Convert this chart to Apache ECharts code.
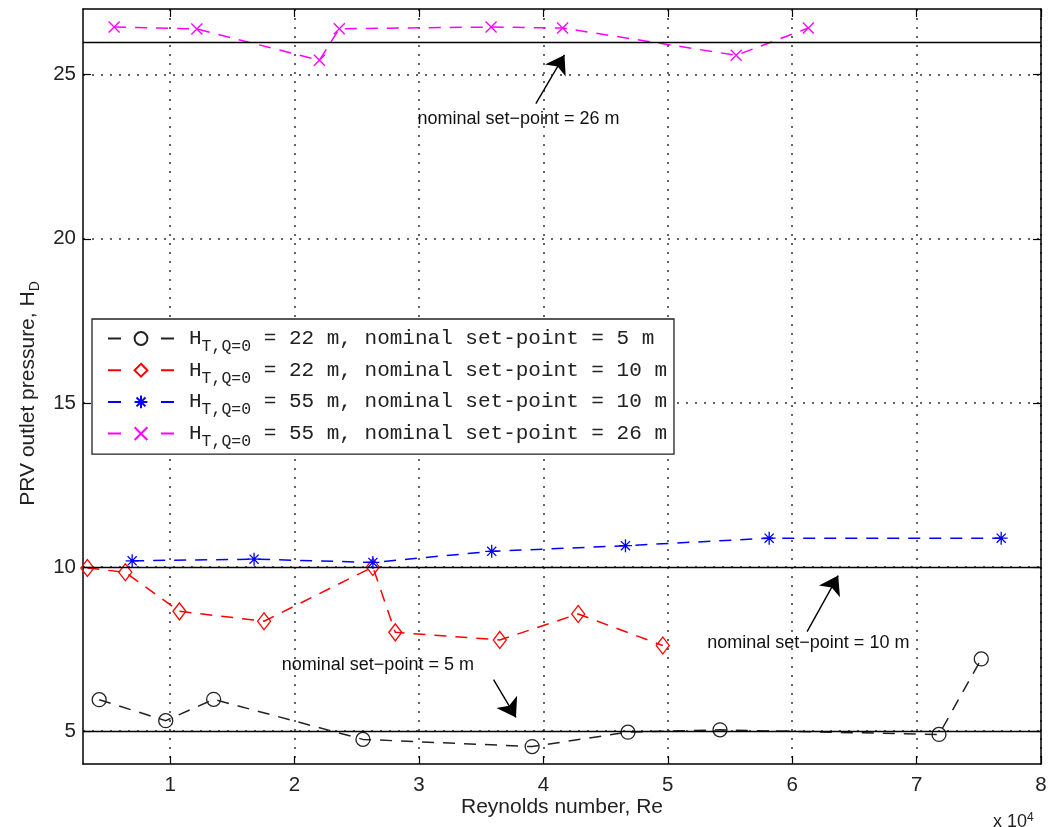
<!DOCTYPE html>
<html>
<head>
<meta charset="utf-8">
<script src="https://cdn.jsdelivr.net/npm/echarts@6/dist/echarts.min.js"></script>
<style>
html, body { margin: 0; padding: 0; background: #fff; }
#chart_main { width: 1052px; height: 827px; }
</style>
</head>
<body>
<div id="chart_main"></div>
<script>
// 横轴 Reynolds number (x 10^4)
var reBlack = [0.43, 0.965, 1.35, 2.55, 3.91, 4.68, 5.42, 7.18, 7.52];
var hBlack  = [5.96, 5.32, 5.97, 4.75, 4.53, 4.97, 5.04, 4.90, 7.20];

var reRed = [0.335, 0.64, 1.075, 1.755, 2.63, 2.81, 3.65, 4.28, 4.96];
var hRed  = [9.97, 9.84, 8.65, 8.35, 10.0, 8.01, 7.78, 8.57, 7.61];

var reBlue = [0.695, 1.675, 2.63, 3.585, 4.66, 5.815, 7.68];
var hBlue  = [10.19, 10.24, 10.14, 10.48, 10.65, 10.88, 10.88];

var reMag = [0.55, 1.215, 2.2, 2.36, 3.58, 4.155, 5.55, 6.13];
var hMag  = [26.45, 26.39, 25.44, 26.40, 26.45, 26.42, 25.59, 26.42];

var seriesNames = [
    '22 m, nominal set-point = 5 m',
    '22 m, nominal set-point = 10 m',
    '55 m, nominal set-point = 10 m',
    '55 m, nominal set-point = 26 m'
];

// 刻度
var xTicks = [1, 2, 3, 4, 5, 6, 7, 8];
var yTicks = [5, 10, 15, 20, 25];
var xRange = [0.3, 8];
var yRange = [4, 27];

// 设定值
var setPoints = [5, 10, 26];

// 注释: 文字位置 / 箭头起点 / 箭头终点
var noteText = ['nominal set\u2212point = 26 m', 'nominal set\u2212point = 10 m', 'nominal set\u2212point = 5 m'];
var notePos  = [[3.80, 23.64], [6.13, 7.70], [2.67, 7.00]];
var arrowFrom = [[3.94, 24.12], [6.12, 8.03], [3.60, 6.57]];
var arrowTo   = [[4.17, 25.60], [6.37, 9.74], [3.78, 5.42]];

var chart = echarts.init(document.getElementById('chart_main'));

var pairs = function (xs, ys) {
    return xs.map(function (x, i) {
        return [x, ys[i]];
    });
};

var dash = [12, 9];
var tickFont = 'Liberation Sans, Arial, sans-serif';
var monoFont = 'Liberation Mono, monospace';

var lineSeries = function (name, xs, ys, color, symbol, size) {
    return {
        name: name,
        type: 'line',
        data: pairs(xs, ys),
        symbol: symbol,
        symbolSize: size,
        showAllSymbol: true,
        lineStyle: { color: color, width: 1.5, type: dash },
        itemStyle: { color: 'transparent', borderColor: color, borderWidth: 1.3 },
        emphasis: { disabled: true },
        z: 3
    };
};

var series = [
    lineSeries(seriesNames[0], reBlack, hBlack, '#222', 'circle', 14),
    lineSeries(seriesNames[1], reRed, hRed, '#ff0000', 'diamond', [13, 17]),
    lineSeries(seriesNames[2], reBlue, hBlue, '#0000ff',
        'path://M0,-10L0,10M-10,0L10,0M-7,-7L7,7M-7,7L7,-7', 13),
    lineSeries(seriesNames[3], reMag, hMag, '#ff00ff',
        'path://M-5,-5L5,5M-5,5L5,-5', 11)
];

// 设定值横线 + 箭头
var markData = setPoints.map(function (v) {
    return { yAxis: v, symbol: 'none' };
});
arrowFrom.forEach(function (p, i) {
    markData.push([
        { coord: p, symbol: 'none' },
        { coord: arrowTo[i], symbol: 'arrow', symbolSize: 18 }
    ]);
});
series[0].markLine = {
    silent: true,
    symbol: 'none',
    label: { show: false },
    lineStyle: { color: '#000', type: 'solid', width: 1.4 },
    emphasis: { disabled: true },
    data: markData
};
series[0].markPoint = {
    silent: true,
    symbol: 'circle',
    symbolSize: 0,
    label: {
        show: true,
        position: 'inside',
        color: '#111',
        fontSize: 18,
        fontFamily: tickFont,
        formatter: function (p) { return p.name; }
    },
    data: noteText.map(function (t, i) {
        return { name: t, coord: notePos[i] };
    })
};

var axisCommon = function () {
    return {
        type: 'value',
        axisLine: { show: true, onZero: false, lineStyle: { color: '#000', width: 1.5 } },
        axisTick: { show: true, inside: true, length: 8, lineStyle: { color: '#000', width: 1.2 } }
    };
};

var gridLine = { show: true, lineStyle: { color: '#333', type: [2, 7], width: 1.5 } };

var option = {
    animation: false,
    grid: { left: 83, right: 11, top: 9, bottom: 63 },
    legend: {
        left: 92,
        top: 319,
        orient: 'vertical',
        selectedMode: false,
        itemWidth: 66,
        itemHeight: 16,
        itemGap: -1.3,
        padding: [3, 7, 4, 15],
        borderColor: '#222',
        borderWidth: 1.3,
        backgroundColor: '#fff',
        lineStyle: { type: [13, 40] },
        formatter: function (name) {
            return '{m|H}{s|T,Q=0}{m| = ' + name + '}';
        },
        textStyle: {
            padding: [0, 0, 0, 10],
            rich: {
                m: { fontFamily: monoFont, fontSize: 21, lineHeight: 22, color: '#222' },
                s: { fontFamily: monoFont, fontSize: 16.5, lineHeight: 10, padding: [16, 0, 0, 0], color: '#222' }
            }
        },
        data: seriesNames
    },
    xAxis: [
        echarts.util.extend({
            position: 'bottom',
            min: xRange[0],
            max: xRange[1],
            name: 'Reynolds number, Re',
            nameLocation: 'middle',
            nameGap: 33,
            nameMoveOverlap: false,
            nameTextStyle: { fontFamily: tickFont, fontSize: 21, color: '#222' },
            axisLabel: { customValues: xTicks, fontFamily: tickFont, fontSize: 20.5, color: '#222', margin: 11 },
            splitLine: gridLine
        }, axisCommon()),
        echarts.util.extend({
            position: 'top',
            min: xRange[0],
            max: xRange[1],
            axisLabel: { show: false },
            splitLine: { show: false }
        }, axisCommon())
    ],
    yAxis: [
        echarts.util.extend({
            position: 'left',
            min: yRange[0],
            max: yRange[1],
            name: 'PRV outlet pressure, H{s|D}',
            nameLocation: 'middle',
            nameGap: 43,
            nameTextStyle: {
                fontFamily: tickFont, fontSize: 21, color: '#222', lineHeight: 24,
                padding: [0, 14, 0, 0],
                rich: {
                    s: { fontFamily: tickFont, fontSize: 14, lineHeight: 10, padding: [14, 0, 0, 0], color: '#222' }
                }
            },
            axisLabel: { customValues: yTicks, fontFamily: tickFont, fontSize: 20.5, color: '#222', margin: 7 },
            splitLine: gridLine
        }, axisCommon()),
        echarts.util.extend({
            position: 'right',
            min: yRange[0],
            max: yRange[1],
            axisLabel: { show: false },
            splitLine: { show: false }
        }, axisCommon())
    ],
    graphic: [{
        type: 'text',
        left: 993,
        top: 812,
        style: {
            text: '{a|x 10}{b|4}',
            rich: {
                a: { fontFamily: tickFont, fontSize: 18, lineHeight: 20, fill: '#222' },
                b: { fontFamily: tickFont, fontSize: 12, lineHeight: 10, verticalAlign: 'top', fill: '#222' }
            }
        }
    }],
    series: series
};

// 刻度位置
option.xAxis[0].axisTick.customValues = xTicks;
option.xAxis[1].axisTick.customValues = xTicks;
option.yAxis[0].axisTick.customValues = yTicks;
option.yAxis[1].axisTick.customValues = yTicks;

chart.setOption(option);
</script>
</body>
</html>
